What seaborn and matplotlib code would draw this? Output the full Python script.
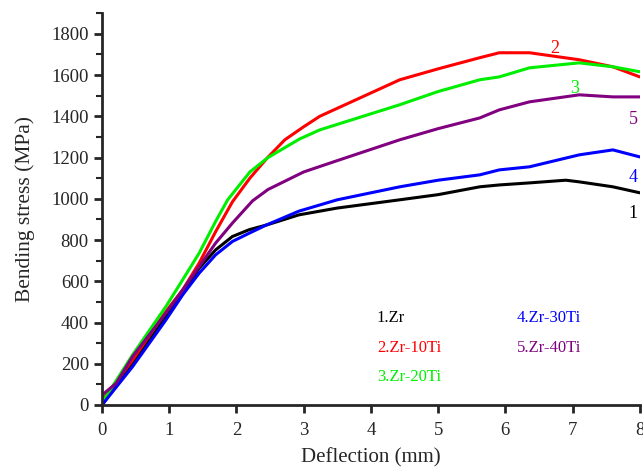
import numpy as np
import pandas as pd
import matplotlib
matplotlib.use("Agg")
import matplotlib.pyplot as plt
import seaborn as sns
from matplotlib.ticker import MultipleLocator

# ---- data (deflection mm, stress MPa) ----
zr_x = [0, 0.455, 0.95, 1.2, 1.445, 1.69, 1.94, 2.19, 2.47, 2.93, 3.5, 4.43, 5.0, 5.62, 5.91, 6.36, 6.9, 7.1, 7.6, 8.0]
zr_y = [0, 200, 429, 545, 663, 752, 817, 850, 875, 922, 955, 995, 1020, 1058, 1067, 1077, 1090, 1082, 1058, 1029]

zr10_x = [0, 0.455, 0.95, 1.2, 1.445, 1.69, 1.94, 2.2, 2.45, 2.72, 3.0, 3.24, 4.43, 5.0, 5.62, 5.91, 6.36, 7.1, 7.6, 8.0]
zr10_y = [20, 218, 453, 558, 688, 840, 985, 1100, 1195, 1286, 1349, 1400, 1577, 1630, 1684, 1708, 1708, 1674, 1640, 1591]

zr20_x = [0, 0.455, 0.95, 1.2, 1.445, 1.69, 1.87, 2.2, 2.47, 2.94, 3.24, 4.43, 5.0, 5.62, 5.91, 6.36, 7.1, 7.6, 8.0]
zr20_y = [10, 243, 477, 607, 736, 890, 995, 1130, 1200, 1290, 1334, 1456, 1520, 1577, 1591, 1635, 1659, 1640, 1616]

zr30_x = [0, 0.455, 0.95, 1.2, 1.445, 1.69, 1.94, 2.19, 2.44, 2.93, 3.5, 4.43, 5.0, 5.62, 5.91, 6.36, 7.1, 7.6, 8.0]
zr30_y = [0, 186, 412, 534, 639, 728, 793, 833, 872, 940, 995, 1058, 1090, 1116, 1140, 1155, 1213, 1237, 1203]

zr40_x = [0, 0.21, 0.455, 0.95, 1.2, 1.445, 1.69, 1.94, 2.24, 2.47, 3.0, 3.5, 4.43, 5.0, 5.62, 5.91, 6.36, 7.1, 7.6, 8.0]
zr40_y = [48, 105, 235, 445, 558, 671, 785, 882, 990, 1045, 1130, 1185, 1286, 1340, 1392, 1431, 1470, 1504, 1494, 1494]

names = ["1.Zr", "2.Zr-10Ti", "3.Zr-20Ti", "4.Zr-30Ti", "5.Zr-40Ti"]
colors = ["#000000", "#ff0000", "#00ee00", "#0000ff", "#800080"]
curve_x = [zr_x, zr10_x, zr20_x, zr30_x, zr40_x]
curve_y = [zr_y, zr10_y, zr20_y, zr30_y, zr40_y]

frames = []
for name, xs, ys in zip(names, curve_x, curve_y):
    frames.append(pd.DataFrame({"deflection": xs, "stress": ys, "alloy": name}))
df = pd.concat(frames, ignore_index=True)

sns.set_style("ticks")
plt.rcParams['font.family'] = ['Liberation Serif', 'DejaVu Serif']

fig = plt.figure(figsize=(6.43, 4.70), dpi=100)
ax = fig.add_axes([0.1586, 0.1383, 0.8364, 0.8337])

sns.lineplot(data=df, x="deflection", y="stress", hue="alloy",
             palette=dict(zip(names, colors)), sort=False, estimator=None,
             linewidth=2.2, legend=False, ax=ax)

ax.set_xlim(0, 8)
ax.set_ylim(0, 1900)
ax.xaxis.set_major_locator(MultipleLocator(1))
ax.yaxis.set_major_locator(MultipleLocator(200))
ax.yaxis.set_minor_locator(MultipleLocator(100))
ax.tick_params(axis='both', which='major', direction='out', length=6, width=2, labelsize=13.5)
ax.tick_params(axis='x', which='major', pad=6)
ax.tick_params(axis='y', which='minor', direction='out', length=4, width=1.5)
for side in ['top', 'right']:
    ax.spines[side].set_visible(False)
for side in ['left', 'bottom']:
    ax.spines[side].set_linewidth(2)
ax.set_xlabel("Deflection (mm)", fontsize=15, labelpad=7)
ax.set_ylabel("Bending stress (MPa)", fontsize=15.5, labelpad=12)

# curve numbers
ax.text(6.73, 1730, "2", color=colors[1], fontsize=13, ha='center', va='center')
ax.text(7.03, 1535, "3", color=colors[2], fontsize=13, ha='center', va='center')
ax.text(7.9, 1385, "5", color=colors[4], fontsize=13, ha='center', va='center')
ax.text(7.9, 1105, "4", color=colors[3], fontsize=13, ha='center', va='center')
ax.text(7.9, 930, "1", color=colors[0], fontsize=13, ha='center', va='center')

# key text
ax.text(4.09, 422, names[0], color=colors[0], fontsize=12, va='center')
ax.text(4.09, 277, names[1], color=colors[1], fontsize=12, va='center')
ax.text(4.09, 136, names[2], color=colors[2], fontsize=12, va='center')
ax.text(6.17, 422, names[3], color=colors[3], fontsize=12, va='center')
ax.text(6.17, 277, names[4], color=colors[4], fontsize=12, va='center')

fig.savefig("out.png", dpi=100)
